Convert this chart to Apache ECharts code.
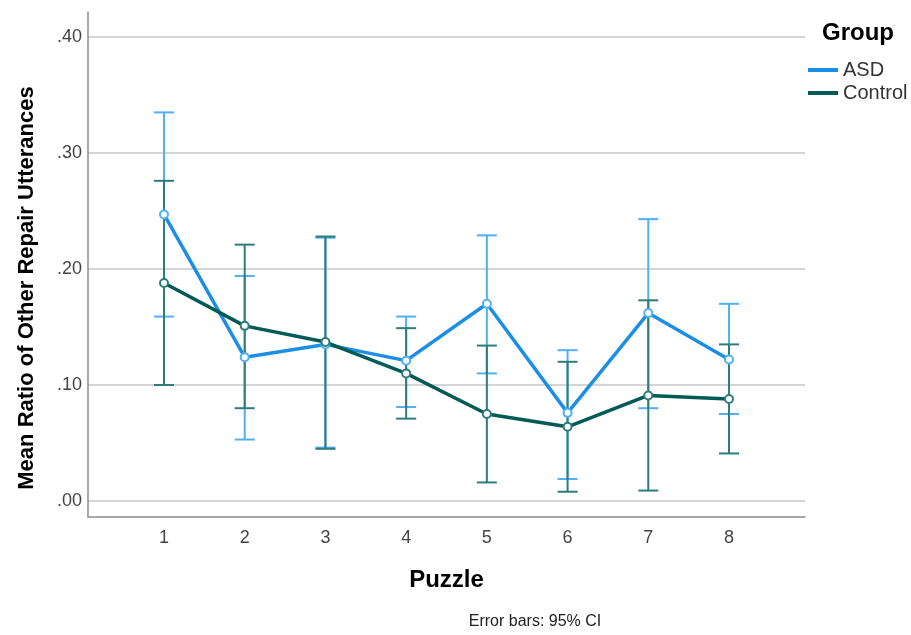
<!DOCTYPE html>
<html>
<head>
<meta charset="utf-8">
<script src="https://cdn.jsdelivr.net/npm/echarts@6/dist/echarts.min.js"></script>
<style>
  html, body { margin: 0; padding: 0; background: #fff; }
  #main { width: 911px; height: 635px; }
</style>
</head>
<body>
<div id="main"></div>
<script>
// puzzle numbers and group means with 95% CI bounds
const puzzles = [1, 2, 3, 4, 5, 6, 7, 8];
const asdMean = [0.247, 0.124, 0.135, 0.121, 0.170, 0.076, 0.162, 0.122];
const asdLow = [0.159, 0.053, 0.046, 0.081, 0.110, 0.019, 0.080, 0.075];
const asdHigh = [0.335, 0.194, 0.227, 0.159, 0.229, 0.130, 0.243, 0.170];
const ctlMean = [0.188, 0.151, 0.137, 0.110, 0.075, 0.064, 0.091, 0.088];
const ctlLow = [0.100, 0.080, 0.045, 0.071, 0.016, 0.008, 0.009, 0.041];
const ctlHigh = [0.276, 0.221, 0.228, 0.149, 0.134, 0.120, 0.173, 0.135];
const yTicks = [0, 0.1, 0.2, 0.3, 0.4];

const FONT = 'Liberation Sans, Arial, sans-serif';
const ASD_LINE = '#1b8fe6';
const ASD_BAR = '#4fb0f2';
const CTL_LINE = '#005a55';
const CTL_BAR = '#2f7c7c';

const chart = echarts.init(document.getElementById('main'));

function errorBarSeries(name, low, high, color) {
  return {
    type: 'custom',
    name: name + ' CI',
    data: puzzles.map((p, i) => [p, low[i], high[i]]),
    encode: { x: 0, y: [1, 2] },
    z: 2,
    silent: true,
    renderItem: (params, api) => {
      const top = api.coord([api.value(0), api.value(2)]);
      const bot = api.coord([api.value(0), api.value(1)]);
      const hw = 10;
      const style = { stroke: color, lineWidth: 2 };
      return {
        type: 'group',
        children: [
          { type: 'line', shape: { x1: top[0], y1: top[1], x2: bot[0], y2: bot[1] }, style },
          { type: 'line', shape: { x1: top[0] - hw, y1: top[1], x2: top[0] + hw, y2: top[1] }, style },
          { type: 'line', shape: { x1: bot[0] - hw, y1: bot[1], x2: bot[0] + hw, y2: bot[1] }, style }
        ]
      };
    }
  };
}

function lineSeries(name, mean, color, markColor) {
  return {
    type: 'line',
    name: name,
    data: puzzles.map((p, i) => [p, mean[i]]),
    z: 3,
    symbol: 'emptyCircle',
    symbolSize: 8,
    lineStyle: { color: color, width: 3.5 },
    itemStyle: { color: markColor, borderColor: markColor, borderWidth: 1.5 },
    emphasis: { disabled: true }
  };
}

const option = {
  animation: false,
  textStyle: { fontFamily: FONT },
  grid: { left: 88, top: 12, right: 106, bottom: 118 },
  xAxis: {
    type: 'value',
    min: 0.0584,
    max: 8.9416,
    name: 'Puzzle',
    nameLocation: 'middle',
    nameGap: 51,
    nameTextStyle: { fontSize: 24, fontWeight: 'bold', color: '#000', fontFamily: FONT },
    axisLine: { show: true, onZero: false, lineStyle: { color: '#8c8c8c', width: 1.5 } },
    axisTick: { show: false, customValues: puzzles },
    splitLine: { show: false },
    axisLabel: {
      customValues: puzzles,
      margin: 12,
      fontSize: 18,
      color: '#444',
      fontFamily: FONT
    }
  },
  yAxis: {
    type: 'value',
    min: -0.01379,
    max: 0.42155,
    axisLine: { show: true, onZero: false, lineStyle: { color: '#8c8c8c', width: 1.5 } },
    axisTick: { show: false, customValues: yTicks },
    splitLine: { show: true, lineStyle: { color: '#d4d4d4', width: 2 } },
    axisLabel: {
      customValues: yTicks,
      margin: 6,
      fontSize: 18,
      color: '#444',
      fontFamily: FONT,
      formatter: v => v.toFixed(2).replace(/^0/, '')
    }
  },
  legend: {
    data: [
      { name: 'ASD', itemStyle: { color: ASD_LINE, borderWidth: 0 } },
      { name: 'Control', itemStyle: { color: CTL_LINE, borderWidth: 0 } }
    ],
    orient: 'vertical',
    left: 808,
    top: 60,
    padding: 0,
    itemGap: 3,
    itemWidth: 30,
    itemHeight: 4,
    icon: 'rect',
    textStyle: { fontSize: 20, color: '#333', fontFamily: FONT }
  },
  graphic: [
    {
      type: 'text', x: 858, y: 33,
      style: { text: 'Group', font: 'bold 24px ' + FONT, fill: '#000', textAlign: 'center', textVerticalAlign: 'middle' }
    },
    {
      type: 'text', x: 27, y: 288, rotation: Math.PI / 2,
      style: { text: 'Mean Ratio of Other Repair Utterances', font: 'bold 22px ' + FONT, fill: '#000', textAlign: 'center', textVerticalAlign: 'middle' }
    },
    {
      type: 'text', x: 535, y: 622,
      style: { text: 'Error bars: 95% CI', font: '16px ' + FONT, fill: '#222', textAlign: 'center', textVerticalAlign: 'middle' }
    }
  ],
  series: [
    errorBarSeries('ASD', asdLow, asdHigh, ASD_BAR),
    errorBarSeries('Control', ctlLow, ctlHigh, CTL_BAR),
    lineSeries('ASD', asdMean, ASD_LINE, ASD_BAR),
    lineSeries('Control', ctlMean, CTL_LINE, CTL_BAR)
  ]
};

chart.setOption(option);
</script>
</body>
</html>
